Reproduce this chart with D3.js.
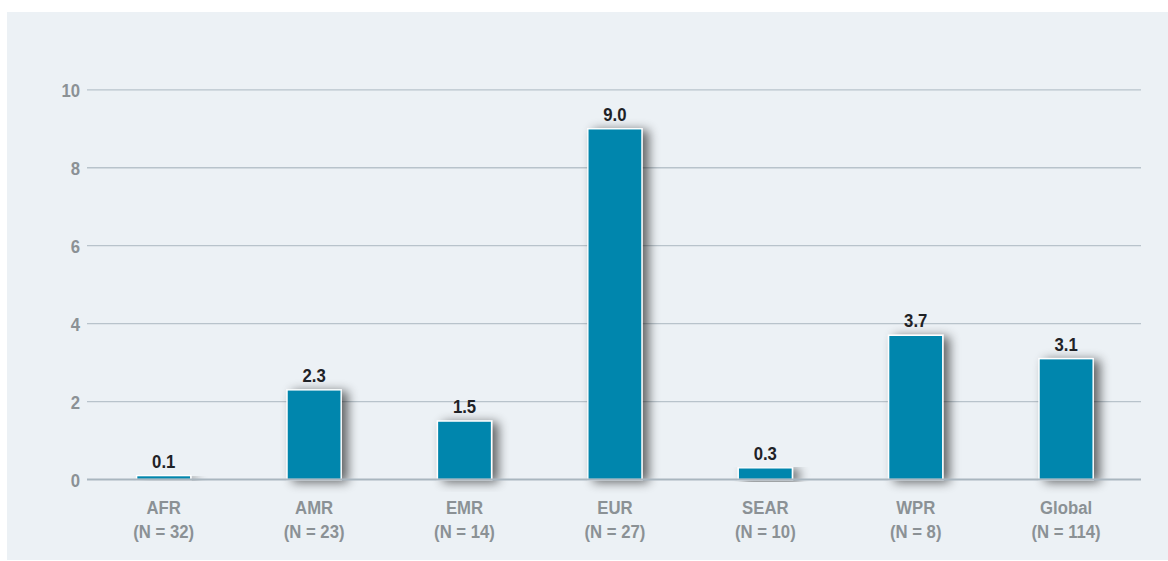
<!DOCTYPE html>
<html>
<head>
<meta charset="utf-8">
<script src="https://cdn.jsdelivr.net/npm/d3@7"></script>
<style>
  html, body { margin: 0; padding: 0; background: #ffffff; }
  svg { display: block; }
  .lbl { font-family: "Liberation Sans", Arial, sans-serif; font-weight: bold; }
</style>
</head>
<body>
<svg id="chart" width="1168" height="561"></svg>
<script>
// Regions and their sample sizes
const regions = ["AFR", "AMR", "EMR", "EUR", "SEAR", "WPR", "Global"];
const sampleSizes = [32, 23, 14, 27, 10, 8, 114];
// Value per region
const values = [0.1, 2.3, 1.5, 9.0, 0.3, 3.7, 3.1];
// Y axis ticks
const yTicks = [0, 2, 4, 6, 8, 10];

const svg = d3.select("#chart");
const W = 1168;
const SX = 0.88;          // horizontal squeeze for a condensed look
const FS = 19;

// panel background
svg.append("rect")
  .attr("x", 7).attr("y", 12)
  .attr("width", W - 7).attr("height", 548)
  .attr("fill", "#ecf1f5");

const defs = svg.append("defs");
const shadow = defs.append("filter").attr("id", "barShadow")
  .attr("x", "-50%").attr("y", "-20%").attr("width", "220%").attr("height", "140%");
shadow.append("feGaussianBlur").attr("in", "SourceAlpha").attr("stdDeviation", 5.5).attr("result", "blur");
shadow.append("feOffset").attr("in", "blur").attr("dx", 6).attr("dy", 2).attr("result", "off");
shadow.append("feComponentTransfer").attr("in", "off").attr("result", "shade")
  .append("feFuncA").attr("type", "linear").attr("slope", 0.6);
const merge = shadow.append("feMerge");
merge.append("feMergeNode").attr("in", "shade");
merge.append("feMergeNode").attr("in", "SourceGraphic");

const x = d3.scaleBand()
  .domain(regions)
  .range([88.5, 1141.3])
  .paddingInner(0.64)
  .paddingOuter(0.32);

const y = d3.scaleLinear()
  .domain([0, 10])
  .range([479.5, 89.8]);

// gridlines
svg.append("g")
  .selectAll("line")
  .data(yTicks.filter(d => d !== 0))
  .join("line")
  .attr("x1", 87).attr("x2", 1141)
  .attr("y1", d => y(d)).attr("y2", d => y(d))
  .attr("stroke", "#b8c3cb")
  .attr("stroke-width", 1.3);

// y axis labels
const yAxis = d3.axisLeft(y).tickValues(yTicks).tickSize(0).tickPadding(0).tickFormat(d3.format("d"));
const gy = svg.append("g").attr("transform", "translate(80,0)").call(yAxis);
gy.select(".domain").remove();
gy.selectAll(".tick text")
  .attr("class", "lbl")
  .attr("fill", "#8b9195")
  .attr("font-size", FS)
  .attr("dy", "0.35em")
  .attr("transform", `scale(${SX},1)`);

// bars
svg.append("g")
  .selectAll("rect")
  .data(values)
  .join("rect")
  .attr("x", (d, i) => x(regions[i]))
  .attr("y", d => y(d))
  .attr("width", x.bandwidth())
  .attr("height", d => y(0) - y(d))
  .attr("fill", "#0086ad")
  .attr("stroke", "#ffffff")
  .attr("stroke-width", 1.4)
  .attr("filter", "url(#barShadow)");

// zero baseline
svg.append("line")
  .attr("x1", 87).attr("x2", 1141)
  .attr("y1", y(0)).attr("y2", y(0))
  .attr("stroke", "#a9b6bf")
  .attr("stroke-width", 2.2);

// value labels
svg.append("g")
  .selectAll("g")
  .data(values)
  .join("g")
  .attr("transform", (d, i) => `translate(${x(regions[i]) + x.bandwidth() / 2},${y(d) - 8}) scale(${SX},1)`)
  .append("text")
  .attr("class", "lbl")
  .attr("text-anchor", "middle")
  .attr("fill", "#1f2226")
  .attr("font-size", FS)
  .text(d => d3.format(".1f")(d));

// category labels
const xAxis = d3.axisBottom(x).tickSize(0).tickPadding(0).tickFormat(() => "");
const gx = svg.append("g").attr("transform", `translate(0,${y(0)})`).call(xAxis);
gx.select(".domain").remove();
gx.selectAll(".tick text").remove();
gx.selectAll(".tick").each(function(d, i) {
  const t = d3.select(this).append("text")
    .attr("class", "lbl")
    .attr("text-anchor", "middle")
    .attr("fill", "#8b9195")
    .attr("font-size", FS)
    .attr("transform", `scale(${SX},1)`);
  t.append("tspan").attr("x", 0).attr("y", 35).text(d);
  t.append("tspan").attr("x", 0).attr("y", 59).text(`(N = ${sampleSizes[i]})`);
});
</script>
</body>
</html>
